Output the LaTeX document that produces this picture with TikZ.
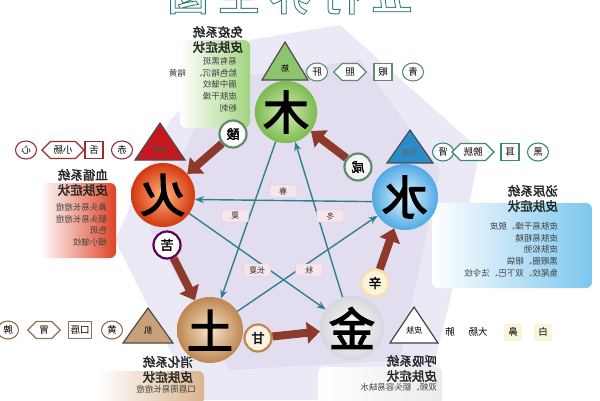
\documentclass[tikz,border=0pt]{standalone}
\usepackage{fontspec}
\usepackage{graphicx}
\setmainfont{Noto Sans CJK SC}
\newfontfamily\boldf[FakeBold=2]{Noto Sans CJK SC}
\newfontfamily\heavyf[FakeBold=3]{Noto Sans CJK SC}
\newfontfamily\ttlout[FakeBold=6]{Noto Sans CJK SC}
\newfontfamily\ttlin[FakeBold=1]{Noto Sans CJK SC}
\usetikzlibrary{shapes.geometric,shapes.symbols,arrows.meta}
\newcommand\mrr[1]{\reflectbox{#1}}
\definecolor{bgl}{HTML}{DCD7EE}
\definecolor{brownarr}{HTML}{8E3A2A}
\definecolor{teal2}{HTML}{2F7F8E}
\definecolor{titlec}{HTML}{2B7A78}
\definecolor{greenA}{HTML}{D4ECB4}
\definecolor{greenB}{HTML}{7DBA50}
\definecolor{redA}{HTML}{FFB27E}
\definecolor{redB}{HTML}{D2380F}
\definecolor{blueA}{HTML}{E6F6FF}
\definecolor{blueB}{HTML}{4FAAE4}
\definecolor{tanA}{HTML}{F8E6CC}
\definecolor{tanB}{HTML}{BE8650}
\definecolor{greyB}{HTML}{D6D6DC}
\definecolor{triG}{HTML}{8CC56C}
\definecolor{triR}{HTML}{C8161E}
\definecolor{triB}{HTML}{2A8CCB}
\definecolor{triT}{HTML}{C9A07A}
\definecolor{boxG}{HTML}{A2D47E}
\definecolor{boxR}{HTML}{DE4326}
\definecolor{boxB}{HTML}{7CC6EE}
\definecolor{boxT}{HTML}{D9B58E}
\definecolor{rowG}{HTML}{5E8C6C}
\definecolor{rowR}{HTML}{9A2E2E}
\definecolor{rowB}{HTML}{3A8878}
\definecolor{rowT}{HTML}{8C7258}
\definecolor{paleY}{HTML}{FAF5D8}
\definecolor{seasF}{HTML}{F6E6EC}
\definecolor{seasD}{HTML}{E2C4CE}
\begin{document}
\begin{tikzpicture}[x=1pt,y=-1pt,
  mir/.style={xscale=-1},
  elem/.style={circle, minimum size=#1, inner sep=0pt, font=\heavyf\fontsize{46}{46}\selectfont},
  taste/.style={circle, minimum size=27pt, inner sep=0pt, fill=white, line width=2.2pt, font=\boldf\fontsize{13}{13}\selectfont},
  ov/.style={ellipse, draw, line width=1.1pt, fill=white, minimum width=21pt, minimum height=18pt, inner sep=0pt, font=\fontsize{9.5}{9.5}\selectfont, mir},
  hx/.style={signal, signal to=east and west, draw, line width=1.1pt, fill=white, minimum height=17pt, inner xsep=3pt, inner ysep=1pt, font=\fontsize{9.5}{9.5}\selectfont, mir},
  rc/.style={rectangle, draw, line width=1.1pt, fill=white, minimum height=17pt, minimum width=18pt, inner xsep=2pt, inner ysep=1pt, font=\fontsize{9.5}{9.5}\selectfont, mir},
  trilbl/.style={inner sep=0pt, font=\fontsize{8}{8}\selectfont, mir},
  seas/.style={rectangle, rounded corners=2pt, fill=seasF, draw=seasD, minimum width=27pt, minimum height=12pt, inner sep=1pt, font=\fontsize{8}{8}\selectfont, text=black!80},
  headtxt/.style={mir, anchor=north west, align=left, inner sep=0pt, font=\boldf\fontsize{12.5}{15}\selectfont, text=black!85},
  itemtxt/.style={mir, anchor=north west, align=left, inner sep=0pt, font=\fontsize{8.5}{11.8}\selectfont, text=black!75},
  genarr/.style={draw=brownarr, line width=8pt, -{Triangle[length=13pt,width=21pt]}},
  ke/.style={draw=teal2, line width=1.4pt, -{Stealth[length=9pt,width=7pt]}}
]
\useasboundingbox (0,0) rectangle (600,400);
\fill[white] (0,0) rectangle (600,400);
% background lavender field
\fill[bgl, opacity=0.55] (250,40) -- (340,25) -- (480,150) -- (450,300) -- (425,400) -- (195,400) -- (115,240) -- (170,120) -- cycle;
\fill[bgl, opacity=0.6] (215,80) -- (360,60) -- (440,170) -- (400,360) -- (230,370) -- (150,230) -- cycle;

% title
\node[mir, anchor=base, text=titlec, font=\ttlout\fontsize{40}{40}\selectfont] (ttlo) at (290,10) {五\kern11pt 行\kern11pt 养\kern11pt 生\kern11pt 图};
\node[mir, anchor=base, text=white, font=\ttlin\fontsize{40}{40}\selectfont] (ttli) at (290,10) {五\kern11pt 行\kern11pt 养\kern11pt 生\kern11pt 图};

% side boxes
\shade[left color=white, right color=boxG, rounded corners=6pt] (180,40) rectangle (250,128);
\shade[left color=white, right color=boxR, rounded corners=6pt] (40,183) rectangle (116,258);
\shade[left color=white, right color=boxB, rounded corners=6pt] (432,203) rectangle (592,288);
\shade[left color=white, right color=boxT, rounded corners=6pt] (97,371) rectangle (204,404);
\shade[left color=white, right color=white!92!black, rounded corners=6pt] (318,367) rectangle (442,404);

% text blocks
\node[headtxt] (muh) at (243,26) {免疫系统\\皮肤症状};
\node[itemtxt] (mui) at (237,57) {易有黑斑\\脸色暗沉、\quad 暗黄\\眉中皱纹\\皮肤干燥\\粉刺};
\node[headtxt] (huoh) at (108,169) {血循系统\\皮肤症状};
\node[itemtxt] (huoi) at (107,203) {鼻头易长痘痘\\额头易长痘痘\\色斑\\细小皱纹};
\node[headtxt] (shuih) at (558,185) {泌尿系统\\皮肤症状};
\node[itemtxt] (shuii) at (558,222) {皮肤易干燥、脱皮\\皮肤易粗糙\\皮肤松弛\\黑眼圈、眼袋\\鱼尾纹、双下巴、法令纹};
\node[headtxt] (tuh) at (193,356) {消化系统\\皮肤症状};
\node[itemtxt] (tui) at (196,385) {口唇周易长痘痘};
\node[headtxt] (jinh) at (437,355) {呼吸系统\\皮肤症状};
\node[itemtxt] (jini) at (437,383) {双颊、额头容易缺水};

% triangles
\filldraw[fill=triG, draw=black!70, line width=1.2pt] (262,80) -- (285,42) -- (308,80) -- cycle;
\node[trilbl] (t1) at (285,68) {筋};
\filldraw[fill=triR, draw=black!70, line width=1.2pt] (135,160) -- (160,123) -- (185,160) -- cycle;
\node[trilbl, text=black!70] (t2) at (160,149) {血脉};
\filldraw[fill=triB, draw=black!70, line width=1.2pt] (387,163) -- (410,130) -- (433,163) -- cycle;
\node[trilbl, text=black!60] (t3) at (410,152) {骨髓};
\filldraw[fill=triT, draw=black!70, line width=1.2pt] (123,343) -- (148,308) -- (173,343) -- cycle;
\node[trilbl] (t4) at (148,331) {肌};
\filldraw[fill=white, draw=black!75, line width=1.2pt] (390,343) -- (414,307) -- (438,343) -- cycle;
\node[trilbl] (t5) at (414,330) {皮肤};

% rows
\node[ov, draw=rowG] (m1) at (317,72) {肝};
\node[hx, draw=rowG] (m2) at (350,72) {胆};
\node[rc, draw=rowG] (m3) at (383,72) {眼};
\node[ov, draw=rowG] (m4) at (413,72) {青};

\node[ov, draw=rowR] (h1) at (26,150) {心};
\node[hx, draw=rowR] (h2) at (63,150) {小肠};
\node[rc, draw=rowR] (h3) at (94,150) {舌};
\node[ov, draw=rowR] (h4) at (122,150) {赤};

\node[ov, draw=rowB] (s1) at (443,152) {肾};
\node[hx, draw=rowB] (s2) at (473,152) {膀胱};
\node[rc, draw=rowB] (s3) at (510,152) {耳};
\node[ov, draw=rowB] (s4) at (538,152) {黑};

\node[ov, draw=rowT] (e1) at (8,330) {脾};
\node[hx, draw=rowT] (e2) at (44,330) {胃};
\node[rc, draw=rowT] (e3) at (80,330) {口唇};
\node[ov, draw=rowT] (e4) at (112,330) {黄};

\node[rc, draw=none, fill=none] (j1) at (450,332) {肺};
\node[rc, draw=none, fill=white] (j2) at (478,332) {大肠};
\node[rc, draw=none, fill=paleY] (j3) at (513,332) {鼻};
\node[rc, draw=none, fill=paleY] (j4) at (543,332) {白};

% element circles
\node[elem=60pt, inner color=greenA, outer color=greenB] (mu) at (286,112) {\mrr{木}};
\node[elem=64pt, inner color=redA, outer color=redB] (huo) at (163,195) {\mrr{火}};
\node[elem=66pt, inner color=blueA, outer color=blueB] (shui) at (405,197) {\mrr{水}};
\node[elem=66pt, inner color=tanA, outer color=tanB] (tu) at (210,330) {\mrr{土}};
\node[elem=64pt, inner color=white, outer color=greyB] (jin) at (352,328) {\mrr{金}};

% tastes
\node[taste, draw=rowG] (suan) at (233,134) {\mrr{酸}};
\node[taste, draw=rowG, fill=black!4] (xian) at (358,167) {\mrr{咸}};
\node[taste, draw=violet!70!black] (ku) at (167,245) {\mrr{苦}};
\node[taste, draw=tanB, fill=tanA!50] (gan) at (258,338) {\mrr{甘}};
\node[taste, draw=paleY!80!orange, fill=paleY] (xin) at (375,283) {\mrr{辛}};

% generating cycle
\draw[genarr] (suan) -- (huo);
\draw[genarr] (ku) -- (tu);
\draw[genarr] (gan) -- (jin);
\draw[genarr] (xin) -- (shui);
\draw[genarr] (xian) -- (mu);

% controlling cycle
\draw[ke] (shui.188) -- (huo.-8);
\draw[ke] (mu) -- (tu);
\draw[ke] (jin) -- (mu);
\draw[ke] (huo) -- (jin);
\draw[ke] (tu) -- (shui);

% seasons
\node[seas] (sp) at (283,191) {\mrr{春}};
\node[seas] (su) at (235,216) {\mrr{夏}};
\node[seas] (wi) at (330,216) {\mrr{冬}};
\node[seas] (ls) at (257,270) {\mrr{长夏}};
\node[seas] (au) at (309,270) {\mrr{秋}};
\end{tikzpicture}
\end{document}
